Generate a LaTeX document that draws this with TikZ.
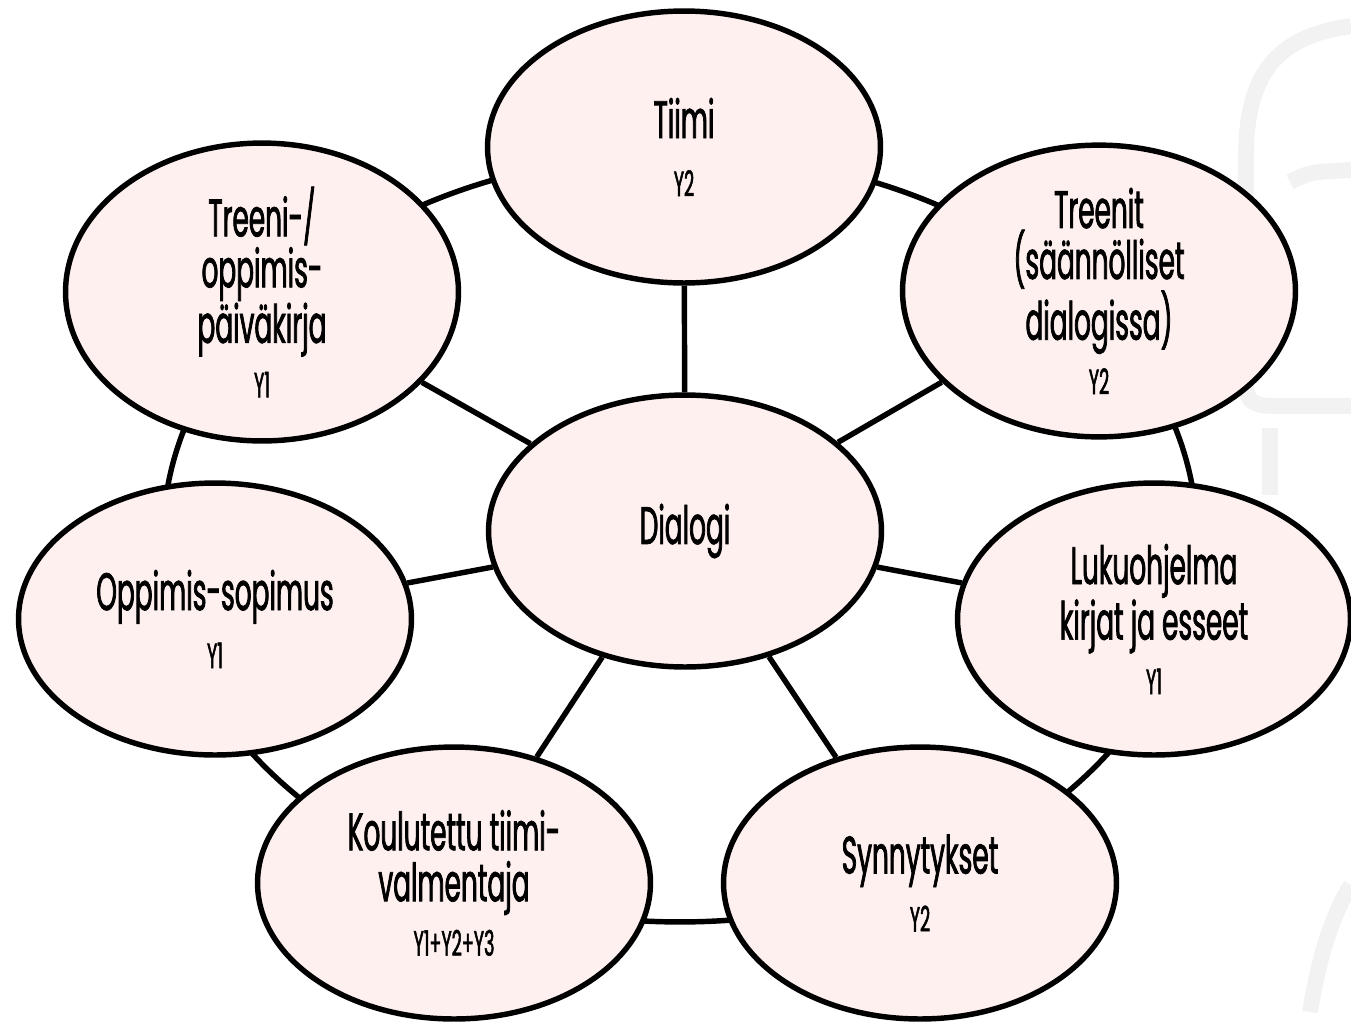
\documentclass[tikz,border=0pt]{standalone}
\usepackage{fontspec}
\setmainfont[FakeStretch=0.5,FakeBold=1.4]{Poppins}
\usetikzlibrary{shapes.geometric}

\definecolor{blush}{HTML}{FEF0EE}
\definecolor{markgray}{HTML}{F2F2F2}

\tikzset{
    topic/.style={ellipse, draw, fill=blush, line width=3.1pt,
        minimum width=7.86cm, minimum height=5.44cm, inner sep=0pt,
        align=center, font=\fontsize{30}{29}\selectfont},
    link/.style={line width=3.1pt},
    watermark/.style={markgray, line width=9pt}
}
\newcommand{\yr}[1]{{\fontsize{20}{29}\selectfont #1}}

\begin{document}
\begin{tikzpicture}[x=0.02cm,y=-0.02cm]

    \useasboundingbox (0,0) rectangle (1351,1022);

    % faint mark in the background
    \draw[watermark] (1351,26) .. controls (1280,36) and (1248,70) .. (1246,150)
        -- (1246,385) .. controls (1246,402) and (1255,406) .. (1275,406) -- (1351,406);
    \draw[watermark] (1290,182) .. controls (1310,172) .. (1351,170);
    \draw[watermark] (1270,428) -- (1270,495);
    \draw[watermark] (1310,1012) .. controls (1320,950) and (1335,910) .. (1351,885);

    % ring behind the topics
    \coordinate (hub) at (680,538);
    \draw[link] (hub) ellipse [x radius=10.34cm, y radius=7.68cm];

    \node[topic] (dialogi) at (685,531) {Dialogi};
    \node[topic] (tiimi) at (684,147) {Tiimi\\[4pt]\yr{Y2}};
    \node[topic] (paivakirja) at (262,292) {Treeni-/\\oppimis-\\päiväkirja\\[2pt]\yr{Y1}};
    \node[topic] (treenit) at (1099,291) {Treenit\\(säännölliset\\dialogissa)\\[2pt]\yr{Y2}};
    \node[topic] (sopimus) at (215,619) {Oppimis-sopimus\\[4pt]\yr{Y1}};
    \node[topic] (lukuohjelma) at (1154,619) {Lukuohjelma\\kirjat ja esseet\\[2pt]\yr{Y1}};
    \node[topic] (valmentaja) at (454,883) {Koulutettu tiimi-\\valmentaja\\[2pt]\yr{Y1+Y2+Y3}};
    \node[topic] (synnytykset) at (920,883) {Synnytykset\\[4pt]\yr{Y2}};

    \foreach \n in {tiimi,paivakirja,treenit,sopimus,lukuohjelma,valmentaja,synnytykset}
        \draw[link] (dialogi) -- (\n);

\end{tikzpicture}
\end{document}
